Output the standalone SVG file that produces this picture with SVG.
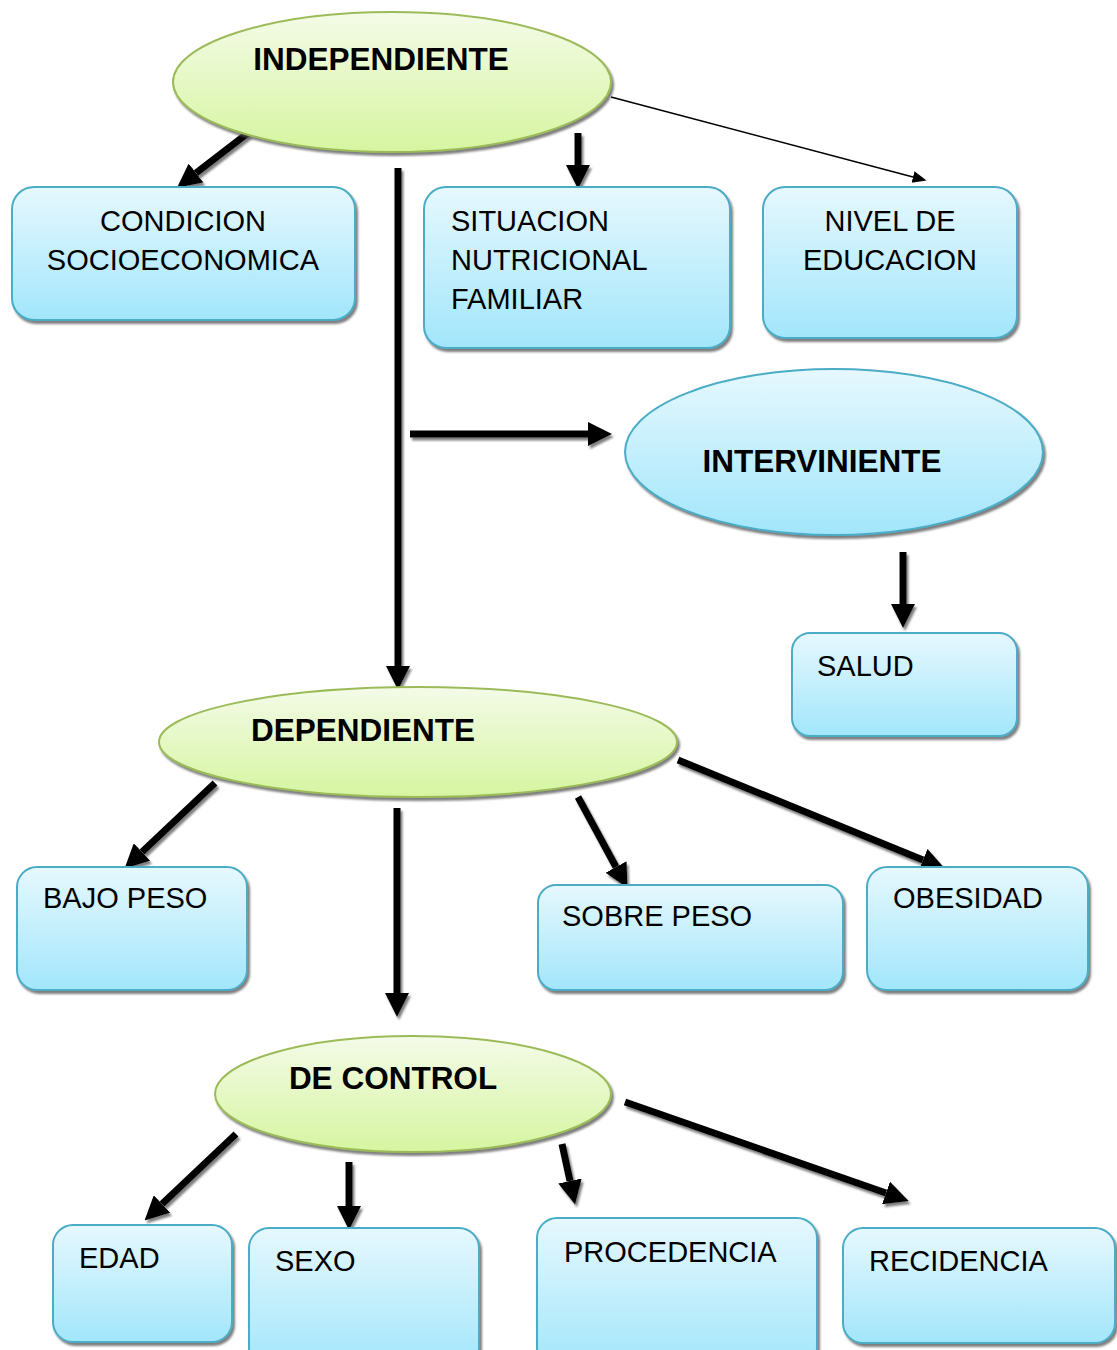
<svg xmlns="http://www.w3.org/2000/svg" width="1117" height="1350" viewBox="0 0 1117 1350">
<defs>
<linearGradient id="gGreen" x1="0" y1="0" x2="0" y2="1">
<stop offset="0" stop-color="#f4fbe8"/>
<stop offset="1" stop-color="#d6f5a0"/>
</linearGradient>
<linearGradient id="gBlue" x1="0" y1="0" x2="0" y2="1">
<stop offset="0" stop-color="#e6f8fe"/>
<stop offset="1" stop-color="#a2e6fb"/>
</linearGradient>
<filter id="sh" filterUnits="userSpaceOnUse" x="0" y="0" width="1117" height="1350">
<feDropShadow dx="2" dy="3" stdDeviation="0.8" flood-color="#555" flood-opacity="0.75"/>
</filter>
<marker id="ah" markerUnits="userSpaceOnUse" markerWidth="24" markerHeight="24" viewBox="0 -11 22 22" refX="0" refY="0" orient="auto">
<path d="M0,-11 L22,0 L0,11 Z" fill="#000"/>
</marker>
<marker id="ahs" markerUnits="userSpaceOnUse" markerWidth="14" markerHeight="14" viewBox="0 -6 12 12" refX="0" refY="0" orient="auto">
<path d="M0,-5 L12,0 L0,5 Z" fill="#000"/>
</marker>
<style>
.ell-g{fill:url(#gGreen);stroke:#9bbb59;stroke-width:2;filter:url(#sh)}
.ell-b{fill:url(#gBlue);stroke:#4bacc6;stroke-width:2;filter:url(#sh)}
.box{fill:url(#gBlue);stroke:#4bacc6;stroke-width:2;filter:url(#sh)}
.t{font-family:"Liberation Sans",Arial,sans-serif;font-size:29px;fill:#000}
.tb{font-family:"Liberation Sans",Arial,sans-serif;font-size:31.5px;font-weight:bold;fill:#000}
.c{text-anchor:middle}
.thick{stroke:#000;stroke-width:7;fill:none;marker-end:url(#ah);filter:url(#sh)}
.thin{stroke:#000;stroke-width:1.6;fill:none;marker-end:url(#ahs)}
</style>
</defs>
<rect width="1117" height="1350" fill="#fff"/>

<g id="connectors">
<line class="thick" x1="248" y1="133" x2="196" y2="173"/>
<line class="thick" x1="398" y1="168" x2="398" y2="666"/>
<line class="thick" x1="578" y1="133" x2="578" y2="165"/>
<line class="thin" x1="611" y1="97" x2="913" y2="177"/>
<line class="thick" x1="410" y1="434" x2="588" y2="434"/>
<line class="thick" x1="903" y1="552" x2="903" y2="604"/>
<line class="thick" x1="215" y1="783" x2="142" y2="852"/>
<line class="thick" x1="397" y1="808" x2="397" y2="993"/>
<line class="thick" x1="578" y1="797" x2="616" y2="867"/>
<line class="thick" x1="678" y1="760" x2="923" y2="860"/>
<line class="thick" x1="236" y1="1134" x2="162" y2="1204"/>
<line class="thick" x1="349" y1="1162" x2="349" y2="1206"/>
<line class="thick" x1="562" y1="1144" x2="570" y2="1181"/>
<line class="thick" x1="625" y1="1102" x2="886" y2="1193"/>
</g>

<g id="independiente">
<ellipse class="ell-g" cx="392" cy="82" rx="219" ry="70"/>
<text class="tb c" x="381" y="70">INDEPENDIENTE</text>
</g>

<g id="condicion">
<rect class="box" x="12" y="187" width="343" height="133" rx="22"/>
<text class="t c" x="183" y="231">CONDICION</text>
<text class="t c" x="183" y="270">SOCIOECONOMICA</text>
</g>

<g id="situacion">
<rect class="box" x="424" y="187" width="306" height="161" rx="22"/>
<text class="t" x="451" y="231">SITUACION</text>
<text class="t" x="451" y="270">NUTRICIONAL</text>
<text class="t" x="451" y="309">FAMILIAR</text>
</g>

<g id="nivel">
<rect class="box" x="763" y="187" width="254" height="151" rx="22"/>
<text class="t c" x="890" y="231">NIVEL DE</text>
<text class="t c" x="890" y="270">EDUCACION</text>
</g>

<g id="interviniente">
<ellipse class="ell-b" cx="834" cy="452" rx="209" ry="83"/>
<text class="tb c" x="822" y="472">INTERVINIENTE</text>
</g>

<g id="salud">
<rect class="box" x="792" y="633" width="225" height="103" rx="18"/>
<text class="t" x="817" y="676">SALUD</text>
</g>

<g id="dependiente">
<ellipse class="ell-g" cx="418" cy="742" rx="259" ry="55"/>
<text class="tb c" x="363" y="741">DEPENDIENTE</text>
</g>

<g id="bajopeso">
<rect class="box" x="17" y="867" width="230" height="123" rx="20"/>
<text class="t" x="43" y="908">BAJO PESO</text>
</g>

<g id="sobrepeso">
<rect class="box" x="538" y="885" width="305" height="105" rx="18"/>
<text class="t" x="562" y="926">SOBRE PESO</text>
</g>

<g id="obesidad">
<rect class="box" x="867" y="867" width="221" height="123" rx="20"/>
<text class="t" x="893" y="908">OBESIDAD</text>
</g>

<g id="decontrol">
<ellipse class="ell-g" cx="413" cy="1094" rx="198" ry="58"/>
<text class="tb c" x="393" y="1089">DE CONTROL</text>
</g>

<g id="edad">
<rect class="box" x="53" y="1225" width="179" height="117" rx="20"/>
<text class="t" x="79" y="1268">EDAD</text>
</g>

<g id="sexo">
<rect class="box" x="249" y="1228" width="230" height="140" rx="20"/>
<text class="t" x="275" y="1271">SEXO</text>
</g>

<g id="procedencia">
<rect class="box" x="537" y="1218" width="280" height="150" rx="20"/>
<text class="t" x="564" y="1262">PROCEDENCIA</text>
</g>

<g id="recidencia">
<rect class="box" x="843" y="1228" width="272" height="115" rx="20"/>
<text class="t" x="869" y="1271">RECIDENCIA</text>
</g>
</svg>
